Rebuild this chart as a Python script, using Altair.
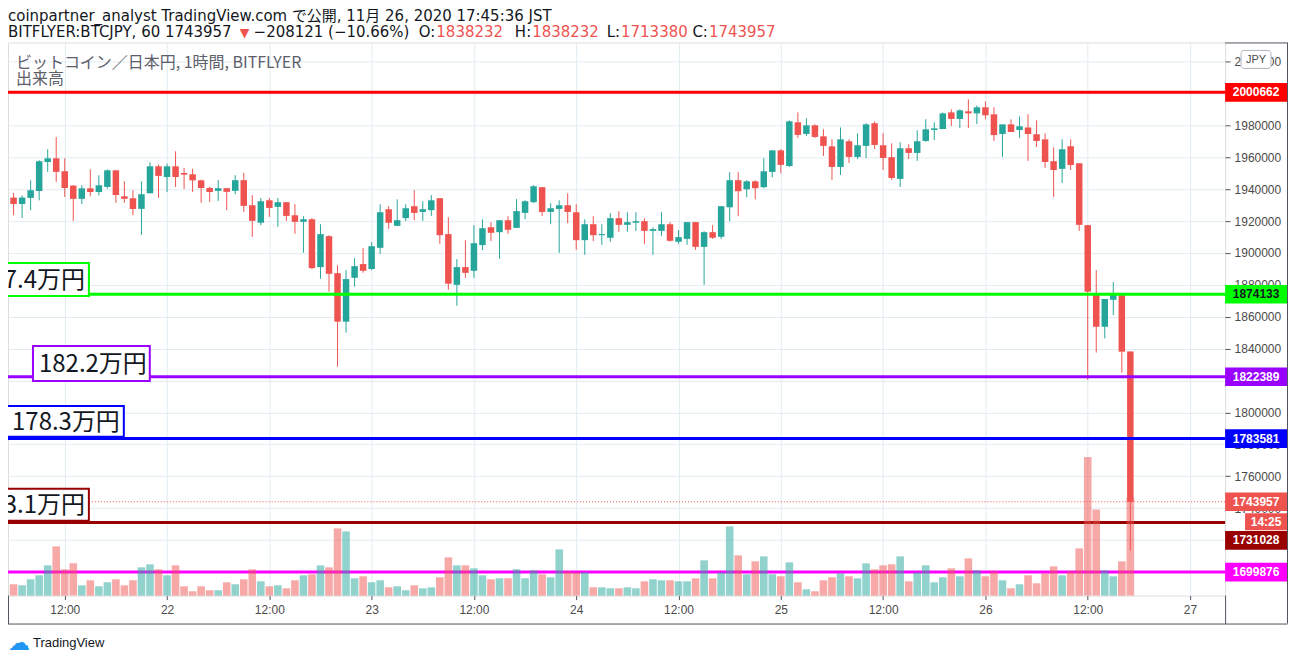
import altair as alt
import pandas as pd

# ---------------- data (BITFLYER BTC/JPY, 1h candles, prices in thousand yen) ----------------
START_HOUR = 6  # first candle = 2020-11-21 06:00 JST, hours counted from 11/21 00:00

OPEN = [1934.7, 1930.7, 1934.5, 1938.9, 1957.0, 1959.3, 1951.2, 1942.2, 1933.9, 1940.5,
        1938.2, 1941.4, 1951.8, 1935.5, 1934.3, 1927.6, 1937.4, 1954.3, 1947.6, 1954.3,
        1950.1, 1949.3, 1945.5, 1940.7, 1938.9, 1940.6, 1938.9, 1945.6, 1929.9, 1918.9,
        1933.0, 1928.9, 1931.8, 1923.6, 1919.5, 1921.1, 1891.1, 1910.5, 1887.3, 1856.9,
        1884.4, 1893.0, 1889.9, 1903.2, 1927.4, 1917.0, 1921.8, 1929.3, 1925.7, 1926.8,
        1934.3, 1911.8, 1880.0, 1891.1, 1888.8, 1904.9, 1916.1, 1913.0, 1920.5, 1915.7,
        1925.1, 1931.8, 1941.2, 1925.7, 1927.6, 1929.9, 1925.5, 1908.0, 1918.0, 1911.1,
        1909.5, 1921.8, 1917.6, 1918.9, 1919.9, 1913.8, 1913.8, 1918.0, 1907.0, 1908.8,
        1919.3, 1903.8, 1913.0, 1910.1, 1928.6, 1945.6, 1939.9, 1944.9, 1941.2, 1950.8,
        1964.3, 1954.5, 1981.9, 1974.6, 1980.0, 1973.1, 1966.8, 1953.9, 1970.0, 1960.2,
        1967.1, 1981.3, 1967.5, 1960.0, 1946.4, 1965.6, 1962.7, 1970.2, 1977.1, 1977.7,
        1988.1, 1984.0, 1988.8, 1987.5, 1991.3, 1986.9, 1974.6, 1980.6, 1977.1, 1978.7,
        1974.4, 1971.2, 1957.5, 1952.7, 1966.9, 1956.2, 1917.4, 1873.6, 1853.7, 1870.6,
        1873.6, 1838.232]
HIGH = [1937.6, 1936.1, 1945.5, 1958.1, 1965.0, 1972.7, 1959.3, 1942.5, 1942.4, 1952.4,
        1948.7, 1952.4, 1951.8, 1944.9, 1939.3, 1944.9, 1956.8, 1955.4, 1956.0, 1963.7,
        1953.3, 1952.8, 1945.9, 1941.4, 1945.6, 1940.6, 1948.7, 1950.2, 1936.2, 1934.5,
        1934.5, 1934.5, 1931.8, 1930.5, 1923.0, 1921.8, 1918.0, 1911.1, 1892.3, 1889.2,
        1896.7, 1903.0, 1906.8, 1930.5, 1929.3, 1933.6, 1930.5, 1939.3, 1932.4, 1936.2,
        1934.3, 1922.4, 1896.1, 1908.0, 1917.4, 1921.1, 1919.3, 1920.5, 1923.0, 1933.7,
        1933.0, 1942.4, 1941.2, 1931.2, 1933.0, 1937.4, 1930.5, 1921.1, 1923.0, 1918.0,
        1924.9, 1926.2, 1925.5, 1925.5, 1921.8, 1916.1, 1925.5, 1919.3, 1914.3, 1919.3,
        1919.3, 1913.6, 1917.4, 1929.3, 1950.6, 1950.6, 1945.6, 1945.6, 1959.3, 1964.3,
        1965.0, 1983.1, 1988.1, 1984.4, 1980.6, 1977.5, 1971.2, 1978.7, 1971.2, 1975.0,
        1981.3, 1982.5, 1975.0, 1968.7, 1969.4, 1968.1, 1976.9, 1983.8, 1981.9, 1988.1,
        1990.0, 1990.0, 1996.3, 1992.5, 1995.0, 1991.3, 1980.6, 1983.7, 1985.6, 1986.9,
        1983.1, 1975.0, 1966.2, 1971.2, 1971.2, 1956.2, 1917.6, 1889.2, 1871.1, 1881.7,
        1874.6, 1838.232]
LOW = [1923.6, 1921.9, 1926.8, 1933.0, 1950.8, 1944.5, 1935.1, 1920.1, 1930.7, 1935.5,
       1936.1, 1940.3, 1931.4, 1931.4, 1923.6, 1911.3, 1937.4, 1934.5, 1938.2, 1941.4,
       1940.1, 1938.2, 1931.4, 1932.0, 1932.6, 1926.8, 1936.8, 1925.7, 1910.1, 1917.4,
       1922.6, 1916.4, 1920.1, 1912.0, 1900.1, 1889.8, 1883.8, 1875.7, 1828.7, 1850.0,
       1878.8, 1887.6, 1889.2, 1899.4, 1915.1, 1917.0, 1919.9, 1920.5, 1920.1, 1923.2,
       1905.7, 1876.9, 1866.9, 1884.4, 1884.4, 1901.7, 1907.4, 1896.3, 1912.0, 1915.7,
       1921.2, 1931.2, 1923.2, 1918.0, 1900.1, 1918.6, 1901.9, 1898.8, 1907.4, 1905.1,
       1907.0, 1913.2, 1913.2, 1913.8, 1905.7, 1898.8, 1910.7, 1907.0, 1905.7, 1905.1,
       1901.9, 1880.0, 1908.8, 1908.8, 1919.9, 1923.0, 1934.9, 1933.6, 1940.6, 1947.4,
       1949.9, 1953.9, 1972.1, 1973.3, 1972.1, 1960.8, 1945.8, 1948.9, 1956.4, 1958.9,
       1959.5, 1965.2, 1952.0, 1945.8, 1941.4, 1958.9, 1957.7, 1969.6, 1970.8, 1977.7,
       1979.6, 1978.3, 1978.3, 1980.8, 1983.8, 1970.2, 1960.2, 1975.8, 1972.1, 1957.7,
       1966.4, 1953.3, 1935.1, 1943.9, 1952.0, 1913.8, 1820.4, 1837.5, 1846.4, 1861.0,
       1824.9, 1713.380]
CLOSE = [1930.7, 1934.7, 1939.3, 1957.4, 1959.3, 1950.8, 1940.7, 1933.9, 1940.5, 1938.2,
         1942.4, 1951.8, 1936.3, 1933.9, 1927.6, 1936.8, 1954.3, 1948.3, 1954.3, 1947.6,
         1949.1, 1945.5, 1940.7, 1938.2, 1940.6, 1938.3, 1945.6, 1929.5, 1920.1, 1932.4,
         1928.2, 1931.8, 1923.2, 1919.5, 1921.1, 1890.5, 1911.8, 1886.9, 1856.9, 1883.6,
         1891.7, 1888.8, 1904.2, 1925.5, 1918.9, 1920.5, 1928.0, 1925.1, 1927.4, 1933.0,
         1911.1, 1880.7, 1891.1, 1887.5, 1906.1, 1915.5, 1912.6, 1920.5, 1914.5, 1926.2,
         1932.4, 1941.8, 1925.7, 1928.0, 1929.9, 1925.7, 1908.0, 1918.0, 1911.1, 1911.8,
         1921.8, 1917.6, 1919.3, 1919.9, 1913.8, 1914.9, 1918.0, 1907.6, 1909.9, 1919.3,
         1903.8, 1913.0, 1909.5, 1929.3, 1945.6, 1938.7, 1944.9, 1940.6, 1951.2, 1964.3,
         1955.2, 1982.5, 1974.0, 1980.0, 1972.7, 1967.1, 1953.9, 1971.2, 1960.2, 1967.5,
         1980.6, 1967.7, 1959.5, 1947.0, 1965.6, 1962.7, 1970.0, 1977.5, 1978.1, 1987.5,
         1984.0, 1989.4, 1987.5, 1991.3, 1986.3, 1973.9, 1980.6, 1975.8, 1979.4, 1974.6,
         1970.2, 1957.0, 1952.0, 1965.0, 1955.1, 1917.6, 1875.7, 1853.7, 1871.1, 1873.6,
         1838.1, 1743.957]
VOLUME = [11.3, 10.3, 16.3, 20.3, 30.3, 49.3, 26.3, 32.3, 10.3, 15.3,
          9.3, 13.3, 16.3, 10.3, 15.3, 28.3, 31.3, 26.3, 20.3, 30.3,
          9.3, 4.3, 9.3, 5.3, 5.3, 13.3, 11.3, 16.3, 26.3, 14.3,
          9.3, 10.3, 7.3, 15.3, 20.3, 21.3, 30.3, 28.3, 67.3, 64.3,
          17.3, 19.3, 13.3, 15.3, 8.3, 9.3, 5.3, 10.3, 7.3, 8.3,
          18.3, 38.3, 30.3, 30.3, 27.3, 20.3, 16.3, 17.3, 17.3, 26.3,
          17.3, 25.3, 21.3, 18.3, 46.3, 24.3, 23.3, 23.3, 8.3, 8.3,
          7.3, 7.3, 8.3, 7.3, 14.3, 16.3, 15.3, 15.3, 14.3, 14.3,
          17.3, 35.3, 17.3, 23.3, 69.3, 40.3, 21.3, 34.3, 39.3, 21.3,
          19.3, 33.3, 13.3, 6.3, 4.3, 15.3, 18.3, 22.3, 19.3, 17.3,
          32.3, 26.3, 30.3, 31.3, 39.3, 14.3, 23.3, 30.3, 13.3, 18.3,
          27.3, 19.3, 37.3, 25.3, 19.3, 24.3, 15.3, 7.3, 11.3, 20.3,
          12.3, 22.3, 29.3, 20.3, 24.3, 47.3, 138.7, 86.3, 25.3, 19.3,
          34.3, 98.3]

LEVELS = [2000662, 1874133, 1822389, 1783581, 1731028, 1699876]
LAST_PRICE = 1743957
COUNTDOWN = "14:25"
TIME_TICKS = [12, 24, 36, 48, 60, 72, 84, 96, 108, 120, 132, 144]
PRICE_TICKS = list(range(1700000, 2020001, 20000))
BOX_TEXTS = ["187.4万円", "182.2万円", "178.3万円", "173.1万円"]
HEADER1 = "coinpartner_analyst TradingView.com で公開, 11月 26, 2020 17:45:36 JST"
HEADER2_SYMBOL = "BITFLYER:BTCJPY, 60 1743957"
HEADER2_CHANGE = "−208121 (−10.66%)"
OHLC_KEYS = ["O:", "H:", "L:", "C:"]
OHLC_VALS = ["1838232", "1838232", "1713380", "1743957"]
LEGEND1 = "ビットコイン／日本円, 1時間, BITFLYER"
LEGEND2 = "出来高"

# ---------------- styles / layout ----------------
UP, DOWN = "#26a69a", "#ef5350"
LEVEL_COLORS = ["#ff0000", "#00ff00", "#9900ff", "#0000ff", "#990000", "#ff00ff"]
LEVEL_TEXT = ["white", "#131722", "white", "white", "white", "white"]
BOX_COLORS = ["#00ff00", "#9900ff", "#0000ff", "#990000"]
W, H = 1219, 554
X_DOM = [5.93, 147.53]
Y_DOM = [1685154, 2031958]
YPP = (Y_DOM[1] - Y_DOM[0]) / H
FRAME = "#50535e"
GRID = "#e1ecf2"
LBL = "#4a4a4a"
HFONT = "DejaVu Sans, Noto Sans CJK JP"
JFONT = "Noto Sans CJK JP"
HSIZE = 15

n = len(OPEN)
df = pd.DataFrame({
    "hour": [START_HOUR + i for i in range(n)],
    "open": [v * 1000 for v in OPEN],
    "high": [v * 1000 for v in HIGH],
    "low": [v * 1000 for v in LOW],
    "close": [v * 1000 for v in CLOSE],
    "vol": VOLUME,
})

x_scale = alt.Scale(domain=X_DOM, nice=False, zero=False)
x_axis = alt.Axis(values=TIME_TICKS, title=None, grid=True, gridColor=GRID, gridWidth=1,
                  domain=False, ticks=True, tickColor=FRAME, tickSize=4,
                  labelExpr="datum.value % 24 == 12 ? '12:00' : '' + (21 + datum.value / 24)",
                  labelColor=LBL, labelFont="Liberation Sans", labelFontSize=12,
                  labelPadding=5, labelFlush=False, labelOverlap=False)
y_scale = alt.Scale(domain=Y_DOM, nice=False, zero=False)
y_axis = alt.Axis(orient="right", values=PRICE_TICKS, format="d", title=None, grid=True,
                  gridColor=GRID, gridWidth=1, domain=False, tickColor=FRAME, tickSize=5,
                  labelColor=LBL, labelFont="Liberation Sans", labelFontSize=12,
                  labelPadding=4, labelFlush=False, labelOverlap=False)

X = alt.X("hour:Q", scale=x_scale, axis=x_axis)
base = alt.Chart(df)
up_f = "datum.close >= datum.open"
dn_f = "datum.close < datum.open"

wick_up = base.transform_filter(up_f).mark_rule(color=UP, strokeWidth=1).encode(
    x=X, y=alt.Y("low:Q", scale=y_scale, axis=y_axis), y2="high:Q")
wick_dn = base.transform_filter(dn_f).mark_rule(color=DOWN, strokeWidth=1).encode(
    x=X, y=alt.Y("low:Q", scale=y_scale, axis=y_axis), y2="high:Q")
body_up = base.transform_filter(up_f).mark_bar(color=UP, size=6.5).encode(
    x=X, y=alt.Y("open:Q", scale=y_scale, axis=y_axis), y2="close:Q")
body_dn = base.transform_filter(dn_f).mark_bar(color=DOWN, size=6.5).encode(
    x=X, y=alt.Y("open:Q", scale=y_scale, axis=y_axis), y2="close:Q")

lv = pd.DataFrame({"price": LEVELS, "col": LEVEL_COLORS})
level_rules = alt.Chart(lv).mark_rule(strokeWidth=3).encode(
    y=alt.Y("price:Q", scale=y_scale, axis=y_axis), color=alt.Color("col:N", scale=None))

price_group = alt.layer(wick_up, wick_dn, body_up, body_dn, level_rules)

vol_up = base.transform_filter(up_f).mark_bar(color=UP, opacity=0.5, size=7.6).encode(
    x=X, y=alt.Y("vol:Q", scale=alt.Scale(domain=[0, H]), axis=None))
vol_dn = base.transform_filter(dn_f).mark_bar(color=DOWN, opacity=0.5, size=7.6).encode(
    x=X, y=alt.Y("vol:Q", scale=alt.Scale(domain=[0, H]), axis=None))
volume_group = alt.layer(vol_up, vol_dn)

# ---------------- overlays ----------------
YO = alt.Y("price:Q", scale=y_scale, axis=None)
last_line = alt.Chart(pd.DataFrame({"price": [LAST_PRICE]})).mark_rule(
    color=DOWN, strokeWidth=1, strokeDash=[1, 2]).encode(y=YO)

# right-axis price tags
tag_labels = [str(v) for v in LEVELS[:4]] + [str(LAST_PRICE), str(LEVELS[4]), str(LEVELS[5])]
tag_centers = LEVELS[:4] + [LAST_PRICE, LEVELS[4] - 18 * YPP, LEVELS[5]]
tag_bg = LEVEL_COLORS[:4] + [DOWN, LEVEL_COLORS[4], LEVEL_COLORS[5]]
tag_fg = LEVEL_TEXT[:4] + ["white", LEVEL_TEXT[4], LEVEL_TEXT[5]]
tags = pd.DataFrame({"label": tag_labels, "center": tag_centers, "bg": tag_bg, "fg": tag_fg})
tags["top"] = tags["center"] + 9.3 * YPP
tags["bot"] = tags["center"] - 9.3 * YPP
tag_rect = alt.Chart(tags).mark_rect().encode(
    x=alt.value(W), x2=alt.value(W + 62),
    y=alt.Y("top:Q", scale=y_scale, axis=None), y2="bot:Q",
    color=alt.Color("bg:N", scale=None))
tag_text = alt.Chart(tags).mark_text(font="Liberation Sans", fontSize=12, fontWeight="bold",
                                     align="center", baseline="middle").encode(
    x=alt.value(W + 31), y=alt.Y("center:Q", scale=y_scale, axis=None),
    text="label:N", color=alt.Color("fg:N", scale=None))

cd = pd.DataFrame({"label": [COUNTDOWN], "center": [LAST_PRICE - 20 * YPP]})
cd["top"] = cd["center"] + 8.5 * YPP
cd["bot"] = cd["center"] - 8.5 * YPP
cd_rect = alt.Chart(cd).mark_rect(color=DOWN).encode(
    x=alt.value(W + 20), x2=alt.value(W + 62),
    y=alt.Y("top:Q", scale=y_scale, axis=None), y2="bot:Q")
cd_text = alt.Chart(cd).mark_text(font="Liberation Sans", fontSize=12, fontWeight="bold",
                                  align="center", baseline="middle", color="white").encode(
    x=alt.value(W + 41), y=alt.Y("center:Q", scale=y_scale, axis=None), text="label:N")

one = pd.DataFrame({"a": [0]})


def rule_h(x0, x1, y, color=FRAME, w=1):
    return alt.Chart(one).mark_rule(color=color, strokeWidth=w).encode(
        x=alt.value(x0), x2=alt.value(x1), y=alt.value(y))


def rule_v(x, y0, y1, color=FRAME, w=1):
    return alt.Chart(one).mark_rule(color=color, strokeWidth=w).encode(
        x=alt.value(x), y=alt.value(y0), y2=alt.value(y1))


def text(s, x, y, size, color, font=HFONT, align="left", baseline="alphabetic",
         weight="normal", clip=False):
    return alt.Chart(pd.DataFrame({"t": [s]})).mark_text(
        align=align, baseline=baseline, fontSize=size, font=font, color=color,
        fontWeight=weight, clip=clip).encode(x=alt.value(x), y=alt.value(y), text="t:N")


frame = [
    rule_h(W, W + 62, 0.5), rule_v(W + 62.5, 0, 582), rule_h(-0.5, W + 62.5, 582.5),
    rule_v(0.5, H, 582.5), rule_v(W + 0.5, H, 582.5),
]

# JPY badge
jpy_rect = alt.Chart(one).mark_rect(fill="white", stroke="#b2b5be", strokeWidth=1,
                                    cornerRadius=3).encode(
    x=alt.value(W + 16), x2=alt.value(W + 46), y=alt.value(8), y2=alt.value(26))
jpy_text = text("JPY", W + 31, 17.5, 11, LBL, font="Liberation Sans", align="center",
                baseline="middle")

# left annotation boxes (x0, x1, y0, y1, text right edge, text middle y)
BOX_GEOM = [(-28, 81, 221, 254, 77, 239),
            (25, 142, 304, 339, 139, 323),
            (-1, 116, 364, 395, 112, 381),
            (-28, 81, 447, 479, 77, 464)]
boxes = []
for (x0, x1, y0, y1, tx, ty), col, s in zip(BOX_GEOM, BOX_COLORS, BOX_TEXTS):
    boxes.append(alt.Chart(one).mark_rect(fill="white", stroke=col, strokeWidth=2,
                                          clip=True).encode(
        x=alt.value(x0), x2=alt.value(x1), y=alt.value(y0), y2=alt.value(y1)))
    boxes.append(text(s, tx, ty, 24, "#131722", font=JFONT, align="right",
                      baseline="middle", clip=True))

# header texts
header = [
    text(HEADER1, 0, -21, HSIZE, "#131722"),
    text(HEADER2_SYMBOL, 0, -5, HSIZE, "#131722"),
    text("▼", 232, -5, 12.5, DOWN),
    text(HEADER2_CHANGE, 246, -5, HSIZE, "#131722"),
]
OHLC_X = [429, 525, 614, 702]
for k, v, xx in zip(OHLC_KEYS, OHLC_VALS, OHLC_X):
    header.append(text(k, xx - 1, -5, HSIZE, "#131722", align="right"))
    header.append(text(v, xx, -5, HSIZE, DOWN))

legend = [
    text(LEGEND1, 8, 26, 16, "#5d606b", font=JFONT),
    text(LEGEND2, 8, 42, 16, "#5d606b", font=JFONT),
]

logo = [
    text("☁", 0, 601, 22, "#2196f3", font="DejaVu Sans", baseline="middle"),
    text("TradingView", 25, 601, 13, "#131722", font="Liberation Sans", baseline="middle"),
]

overlay = alt.layer(last_line, *boxes, tag_rect, tag_text, cd_rect, cd_text,
                    jpy_rect, jpy_text, *frame, *header, *legend, *logo)

chart = alt.layer(price_group, volume_group, overlay).resolve_scale(
    y="independent"
).properties(
    width=W, height=H,
    padding={"left": 0, "top": 34, "right": 63, "bottom": 60},
    autosize=alt.AutoSizeParams(type="none"),
).configure_view(stroke=FRAME, strokeWidth=1).configure(font="Liberation Sans")

chart.save("out.html", embed_options={"renderer": "svg", "actions": False})
